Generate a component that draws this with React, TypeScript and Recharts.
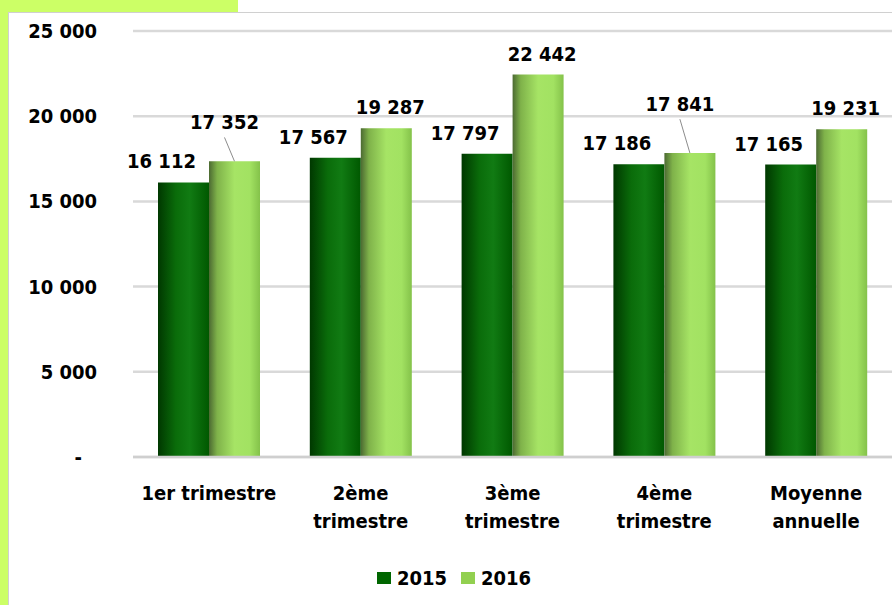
import React from 'react';
import { BarChart, Bar, XAxis, YAxis, CartesianGrid, Legend, LabelList } from 'recharts';

const categories = ['1er trimestre', '2ème\ntrimestre', '3ème\ntrimestre', '4ème\ntrimestre', 'Moyenne\nannuelle'];
const values2015 = [16112, 17567, 17797, 17186, 17165];
const values2016 = [17352, 19287, 22442, 17841, 19231];
const yTicks = [0, 5000, 10000, 15000, 20000, 25000];

const data = categories.map((name, i) => ({ name, y2015: values2015[i], y2016: values2016[i] }));

const FONT = "'DejaVu Sans Condensed', 'DejaVu Sans', sans-serif";
const FS = 20;
const C2015 = '#006600';
const C2016 = '#92d050';

const fmt = (v: number) => String(v).replace(/\B(?=(\d{3})+(?!\d))/g, ' ');

const YTick = (props: any) => {
  const { x, y, payload } = props;
  const zero = payload.value === 0;
  return (
    <text x={zero ? x - 15 : x} y={y} dy={7} textAnchor="end" fontFamily={FONT} fontWeight="bold" fontSize={FS} fill="#000">
      {zero ? '-' : fmt(payload.value)}
    </text>
  );
};

const XTick = (props: any) => {
  const { x, y, payload } = props;
  const lines = String(payload.value).split('\n');
  return (
    <g>
      {lines.map((l, i) => (
        <text key={i} x={x} y={y + 43 + i * 28} textAnchor="middle" fontFamily={FONT} fontWeight="bold" fontSize={FS} fill="#000">
          {l}
        </text>
      ))}
    </g>
  );
};

const Label2015 = (props: any) => {
  const { x, y, width, value } = props;
  return (
    <text x={x + width / 2 - 22} y={y - 14} textAnchor="middle" fontFamily={FONT} fontWeight="bold" fontSize={FS} fill="#000">
      {fmt(value)}
    </text>
  );
};

const Label2016 = (props: any) => {
  const { x, y, width, height, value, index } = props;
  const base = y + height;
  const scale = height / value;
  const top2015 = base - values2015[index] * scale;
  const lab2015 = top2015 - 14;
  let ly = y - 14;
  let lx = x + width / 2 + 4;
  let leader = false;
  if (lab2015 - ly < 25) {
    ly = lab2015 - 39;
    lx = x + width / 2 - 10;
    leader = true;
  }
  return (
    <g>
      {leader && <line x1={lx} y1={ly + 8} x2={x + width / 2} y2={y} stroke="#8c8c8c" strokeWidth={1} />}
      <text x={lx} y={ly} textAnchor="middle" fontFamily={FONT} fontWeight="bold" fontSize={FS} fill="#000">
        {fmt(value)}
      </text>
    </g>
  );
};

const LegendContent = () => (
  <div style={{ height: 24, display: 'flex', justifyContent: 'center', alignItems: 'center', paddingLeft: 22, fontFamily: FONT, fontWeight: 'bold', fontSize: FS, color: '#000' }}>
    {[['2015', C2015], ['2016', C2016]].map(([label, color]) => (
      <div key={label} style={{ display: 'flex', alignItems: 'center', marginRight: 14 }}>
        <span style={{ display: 'inline-block', width: 14, height: 12, background: color, marginRight: 6 }} />
        <span>{label}</span>
      </div>
    ))}
  </div>
);

export default function App() {
  return (
    <div style={{ position: 'fixed', left: 0, top: 0, width: 892, height: 605, background: '#fff', overflow: 'hidden' }}>
      <div style={{ position: 'absolute', left: 0, top: 0, width: 238, height: 12, background: '#ccff66' }} />
      <div style={{ position: 'absolute', left: 0, top: 0, width: 8, height: 605, background: '#ccff66' }} />
      <div style={{ position: 'absolute', left: 8, top: 12, width: 884, height: 593, borderTop: '1px solid #d0d0d0', borderLeft: '1px solid #d0d0d0', boxSizing: 'border-box' }} />
      <div style={{ position: 'absolute', left: 8, top: 12 }}>
        <BarChart width={884} height={593} data={data} margin={{ top: 19, right: 0, left: 0, bottom: 15 }} barGap={0} barSize={51}>
          <defs>
            <linearGradient id="g2015" x1="0" y1="0" x2="1" y2="0">
              <stop offset="0%" stopColor="#003800" />
              <stop offset="35%" stopColor="#0a6c0a" />
              <stop offset="62%" stopColor="#117b13" />
              <stop offset="100%" stopColor="#005800" />
            </linearGradient>
            <linearGradient id="g2016" x1="0" y1="0" x2="1" y2="0">
              <stop offset="0%" stopColor="#4c6a32" />
              <stop offset="16%" stopColor="#7fb24a" />
              <stop offset="50%" stopColor="#a6e465" />
              <stop offset="80%" stopColor="#a2e262" />
              <stop offset="100%" stopColor="#84c24a" />
            </linearGradient>
          </defs>
          <CartesianGrid vertical={false} stroke="#d9d9d9" strokeWidth={2.5} />
          <XAxis dataKey="name" interval={0} axisLine={{ stroke: '#cfcfcf', strokeWidth: 2.5 }} tickLine={false} tickSize={0} tickMargin={0} height={109} tick={<XTick />} />
          <YAxis domain={[0, 25000]} ticks={yTicks} axisLine={false} tickLine={false} tickSize={0} tickMargin={36} width={125} tick={<YTick />} />
          <Legend verticalAlign="bottom" content={<LegendContent />} />
          <Bar dataKey="y2015" name="2015" fill="url(#g2015)" isAnimationActive={false}>
            <LabelList dataKey="y2015" content={<Label2015 />} />
          </Bar>
          <Bar dataKey="y2016" name="2016" fill="url(#g2016)" isAnimationActive={false}>
            <LabelList dataKey="y2016" content={<Label2016 />} />
          </Bar>
        </BarChart>
      </div>
    </div>
  );
}
